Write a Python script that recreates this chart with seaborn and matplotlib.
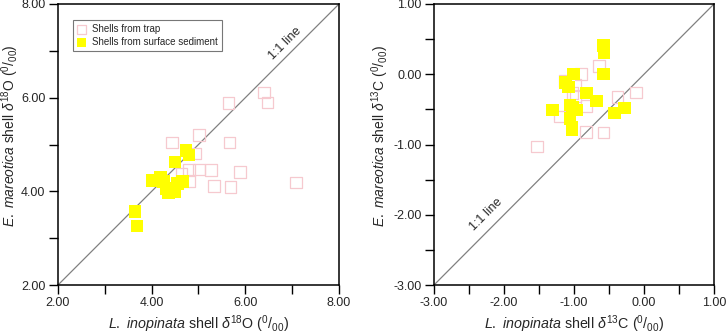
import numpy as np
import pandas as pd
import seaborn as sns
import matplotlib.pyplot as plt
from matplotlib.ticker import MultipleLocator, FormatStrFormatter

# delta 18O (left panel)
trap_o_x = [6.40, 6.47, 5.64, 5.01, 4.44, 5.66, 4.93, 4.80, 5.01, 5.27, 5.89, 4.64, 4.80, 5.33, 5.68, 7.08]
trap_o_y = [6.11, 5.90, 5.88, 5.20, 5.04, 5.04, 4.81, 4.46, 4.47, 4.46, 4.41, 4.38, 4.22, 4.12, 4.09, 4.19]
sed_o_x = [4.73, 4.80, 4.50, 4.02, 4.19, 4.25, 4.31, 4.36, 4.50, 4.55, 4.66, 3.64, 3.69]
sed_o_y = [4.87, 4.78, 4.63, 4.23, 4.30, 4.21, 4.06, 3.96, 3.98, 4.17, 4.21, 3.57, 3.26]

# delta 13C (right panel)
trap_c_x = [-0.64, -0.90, -1.13, -0.98, -1.02, -0.98, -0.11, -0.38, -0.82, -1.20, -0.83, -0.58, -1.53]
trap_c_y = [0.12, 0.00, -0.10, -0.15, -0.27, -0.31, -0.26, -0.32, -0.45, -0.60, -0.82, -0.83, -1.03]
sed_c_x = [-0.58, -0.57, -0.58, -1.01, -1.12, -1.08, -0.82, -0.68, -1.31, -1.06, -1.02, -0.96, -0.28, -0.42, -1.06, -1.03, -1.03]
sed_c_y = [0.41, 0.31, 0.00, 0.00, -0.12, -0.18, -0.27, -0.38, -0.51, -0.44, -0.47, -0.51, -0.48, -0.55, -0.63, -0.76, -0.79]

trap_lbl = 'Shells from trap'
sed_lbl = 'Shells from surface sediment'
pink = '#f6c9cf'
yellow = '#ffff00'

sns.set_style('ticks')
plt.rcParams['font.family'] = ['Liberation Sans', 'DejaVu Sans']
plt.rcParams['mathtext.fontset'] = 'custom'
plt.rcParams['mathtext.rm'] = 'Liberation Sans'
plt.rcParams['mathtext.it'] = 'Liberation Sans:italic'

fig = plt.figure(figsize=(7.26, 3.34), dpi=100)
ax1 = fig.add_axes([58/726, 49/334, 281/726, 281/334])
ax2 = fig.add_axes([434/726, 49/334, 280/726, 281/334])

def panel(ax, tx, ty, sx, sy, lim, major, minor, iso, elem, txt_xy, ylab_x, legend):
    ax.plot(lim, lim, color='#808080', lw=0.9, zorder=1)
    sns.scatterplot(x=tx, y=ty, ax=ax, marker='s', s=70, facecolor='none',
                    edgecolor=pink, linewidth=0.9, label=trap_lbl, zorder=2)
    sns.scatterplot(x=sx, y=sy, ax=ax, marker='s', s=80, color=yellow,
                    edgecolor='none', linewidth=0, label=sed_lbl, zorder=3)
    ax.set_xlim(lim)
    ax.set_ylim(lim)
    ax.xaxis.set_major_locator(MultipleLocator(major))
    ax.yaxis.set_major_locator(MultipleLocator(major))
    ax.xaxis.set_minor_locator(MultipleLocator(minor))
    ax.yaxis.set_minor_locator(MultipleLocator(minor))
    ax.xaxis.set_major_formatter(FormatStrFormatter('%.2f'))
    ax.yaxis.set_major_formatter(FormatStrFormatter('%.2f'))
    ax.tick_params(which='both', direction='out', length=6.5, width=1, color='black', pad=2.5)
    ax.tick_params(which='major', labelsize=9)
    for s in ax.spines.values():
        s.set_color('black')
        s.set_linewidth(1.1)
    ax.text(txt_xy[0], txt_xy[1], '1:1 line', rotation=45, ha='center', va='center', fontsize=9)
    tail = r' shell $\delta^{' + iso + r'}$' + elem + r' ($^{0}/_{00}$)'
    ax.set_xlabel(r'$\mathit{L.\ inopinata}$' + tail, fontsize=10.3)
    ax.set_ylabel(r'$\mathit{E.\ mareotica}$' + tail, fontsize=10)
    ax.xaxis.set_label_coords(0.5, -0.1)
    ax.yaxis.set_label_coords(ylab_x, 0.53)
    if legend:
        leg = ax.legend(loc='upper left', bbox_to_anchor=(0.035, 0.96), fontsize=7, frameon=True,
                        fancybox=False, edgecolor='#555555', handletextpad=0.6, borderpad=0.4,
                        labelspacing=0.3, handlelength=1.0, markerscale=0.7)
        leg.get_frame().set_linewidth(0.8)
    else:
        ax.get_legend().remove()

panel(ax1, trap_o_x, trap_o_y, sed_o_x, sed_o_y, [2, 8], 2, 1, '18', 'O', (6.85, 7.15), -0.133, True)
panel(ax2, trap_c_x, trap_c_y, sed_c_x, sed_c_y, [-3, 1], 1, 0.5, '13', 'C', (-2.25, -2.0), -0.155, False)

fig.savefig('out.png', dpi=100)
